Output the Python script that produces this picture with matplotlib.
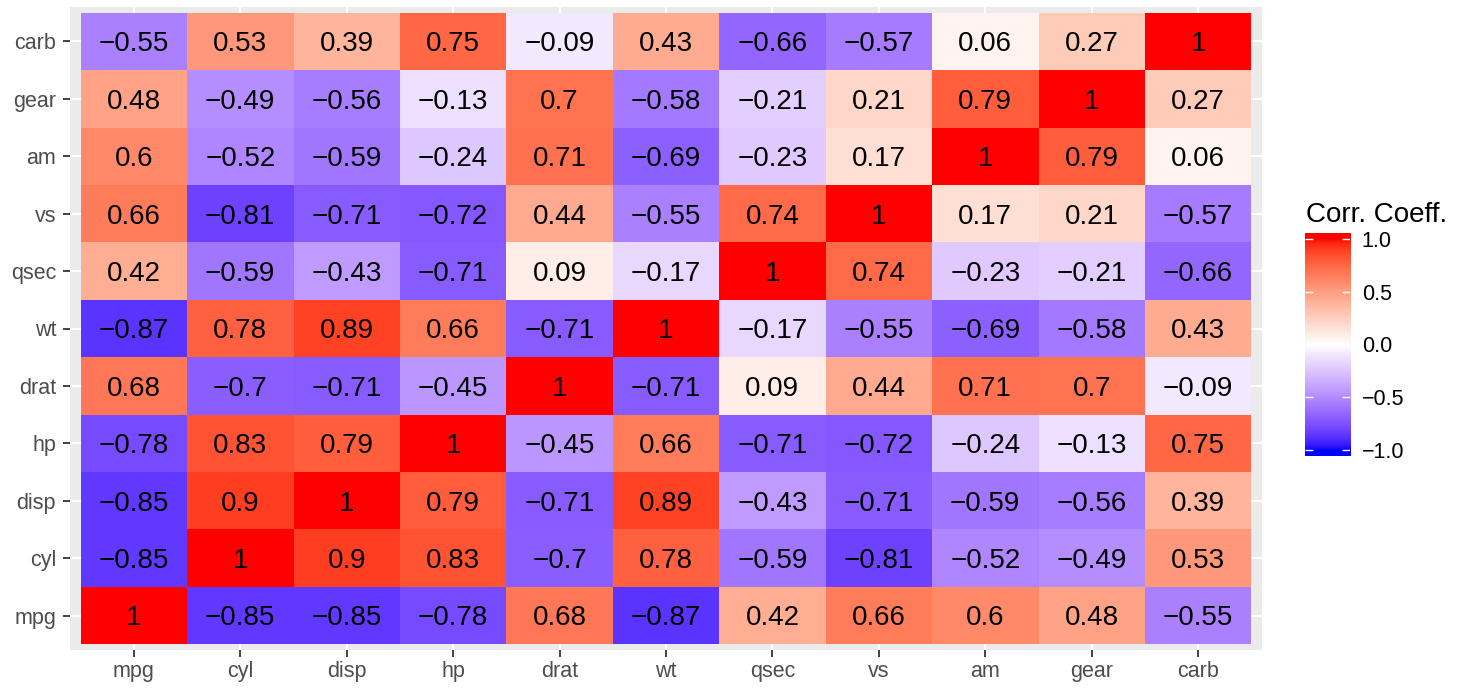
import numpy as np
import matplotlib
matplotlib.use("Agg")
import matplotlib.pyplot as plt
from matplotlib.colors import ListedColormap, Normalize

plt.rcParams['font.family'] = ['Liberation Sans', 'DejaVu Sans']

# Variables (bottom-to-top on y, left-to-right on x)
variables = ["mpg", "cyl", "disp", "hp", "drat", "wt", "qsec", "vs", "am", "gear", "carb"]

# Correlation coefficients, one row per variable
r_mpg  = [1, -0.85, -0.85, -0.78, 0.68, -0.87, 0.42, 0.66, 0.6, 0.48, -0.55]
r_cyl  = [-0.85, 1, 0.9, 0.83, -0.7, 0.78, -0.59, -0.81, -0.52, -0.49, 0.53]
r_disp = [-0.85, 0.9, 1, 0.79, -0.71, 0.89, -0.43, -0.71, -0.59, -0.56, 0.39]
r_hp   = [-0.78, 0.83, 0.79, 1, -0.45, 0.66, -0.71, -0.72, -0.24, -0.13, 0.75]
r_drat = [0.68, -0.7, -0.71, -0.45, 1, -0.71, 0.09, 0.44, 0.71, 0.7, -0.09]
r_wt   = [-0.87, 0.78, 0.89, 0.66, -0.71, 1, -0.17, -0.55, -0.69, -0.58, 0.43]
r_qsec = [0.42, -0.59, -0.43, -0.71, 0.09, -0.17, 1, 0.74, -0.23, -0.21, -0.66]
r_vs   = [0.66, -0.81, -0.71, -0.72, 0.44, -0.55, 0.74, 1, 0.17, 0.21, -0.57]
r_am   = [0.6, -0.52, -0.59, -0.24, 0.71, -0.69, -0.23, 0.17, 1, 0.79, 0.06]
r_gear = [0.48, -0.49, -0.56, -0.13, 0.7, -0.58, -0.21, 0.21, 0.79, 1, 0.27]
r_carb = [-0.55, 0.53, 0.39, 0.75, -0.09, 0.43, -0.66, -0.57, 0.06, 0.27, 1]

legend_title = "Corr. Coeff."
legend_ticks = [-1.0, -0.5, 0.0, 0.5, 1.0]

corr = np.array([r_mpg, r_cyl, r_disp, r_hp, r_drat, r_wt, r_qsec, r_vs, r_am, r_gear, r_carb])
n = len(variables)


# --- diverging blue-white-red palette interpolated in CIE Lab ---
_M = np.array([[0.4124564, 0.3575761, 0.1804375],
               [0.2126729, 0.7151522, 0.0721750],
               [0.0193339, 0.1191920, 0.9503041]])
_WHITE = np.array([0.95047, 1.0, 1.08883])
_D = 6 / 29


def rgb_to_lab(rgb):
    c = np.asarray(rgb, float)
    lin = np.where(c <= 0.04045, c / 12.92, ((c + 0.055) / 1.055) ** 2.4)
    xyz = _M @ lin / _WHITE
    f = np.where(xyz > _D ** 3, np.cbrt(xyz), xyz / (3 * _D ** 2) + 4 / 29)
    return np.array([116 * f[1] - 16, 500 * (f[0] - f[1]), 200 * (f[1] - f[2])])


def lab_to_rgb(lab):
    L, a, b = lab
    fy = (L + 16) / 116
    fx = fy + a / 500
    fz = fy - b / 200
    f = np.array([fx, fy, fz])
    xyz = np.where(f > _D, f ** 3, 3 * _D ** 2 * (f - 4 / 29)) * _WHITE
    lin = np.linalg.solve(_M, xyz)
    lin = np.clip(lin, 0, 1)
    c = np.where(lin <= 0.0031308, 12.92 * lin, 1.055 * lin ** (1 / 2.4) - 0.055)
    return np.clip(c, 0, 1)


low, mid, high = rgb_to_lab([0, 0, 1]), rgb_to_lab([1, 1, 1]), rgb_to_lab([1, 0, 0])
colors = []
for t in np.linspace(0, 1, 512):
    if t <= 0.5:
        u = t / 0.5
        lab = low + (mid - low) * u
    else:
        u = (t - 0.5) / 0.5
        lab = mid + (high - mid) * u
    colors.append(lab_to_rgb(lab))
cmap = ListedColormap(colors)
norm = Normalize(vmin=-1, vmax=1)

W, H = 1466, 688
fig = plt.figure(figsize=(W / 100, H / 100), dpi=100)
fig.patch.set_facecolor("white")

ax = fig.add_axes([70 / W, (H - 650) / H, (1262 - 70) / W, (650 - 7) / H])
ax.set_facecolor("#EBEBEB")

edges = np.arange(n + 1) - 0.5
ax.pcolormesh(edges, edges, corr, cmap=cmap, norm=norm, zorder=2,
              edgecolors="face", linewidth=0)

cell_fs = 20
for i in range(n):
    for j in range(n):
        v = corr[i, j]
        label = f"{v:g}".replace("-", "\u2212")
        # centre the digits (cap height) on the tile
        ax.annotate(label, (j, i), xytext=(0, -0.358 * cell_fs),
                    textcoords="offset points", ha="center", va="baseline",
                    fontsize=cell_fs, color="black", zorder=3)

exp = 0.1
ax.set_xlim(-0.5 - exp, n - 0.5 + exp)
ax.set_ylim(-0.5 - exp, n - 0.5 + exp)
ax.set_xticks(range(n))
ax.set_yticks(range(n))
ax.set_xticklabels(variables)
ax.set_yticklabels(variables)
ax.tick_params(axis="both", length=5, width=1.3, color="#333333",
               labelcolor="#4D4D4D", labelsize=15.5)
ax.tick_params(axis="x", pad=3)
ax.tick_params(axis="y", pad=5)
ax.grid(True, color="white", linewidth=1.5, zorder=1)
ax.set_axisbelow(True)
for s in ax.spines.values():
    s.set_visible(False)

# --- colour bar legend ---
bar_left, bar_w = 1305, 45
bar_top, bar_bot = 233, 456
cax = fig.add_axes([bar_left / W, (H - bar_bot) / H, bar_w / W, (bar_bot - bar_top) / H])
ext = 1 / 19
vals = np.clip(np.linspace(-1 - ext, 1 + ext, 400), -1, 1)
cax.imshow(vals[:, None], cmap=cmap, norm=norm, aspect="auto", origin="lower",
           extent=(0, 1, -1 - ext, 1 + ext), interpolation="bilinear")
cax.set_xlim(0, 1)
cax.set_ylim(-1 - ext, 1 + ext)
for t in legend_ticks:
    cax.plot([0, 0.18], [t, t], color="white", lw=1, solid_capstyle="butt")
    cax.plot([0.82, 1], [t, t], color="white", lw=1, solid_capstyle="butt")
cax.set_xticks([])
cax.yaxis.tick_right()
cax.set_yticks(legend_ticks)
cax.set_yticklabels([f"{t:.1f}".replace("-", "\u2212") for t in legend_ticks])
cax.tick_params(axis="y", length=0, pad=8.5, labelsize=15.5, labelcolor="black")
for s in cax.spines.values():
    s.set_visible(False)

fig.text(1306 / W, (H - 222) / H, legend_title, ha="left", va="baseline",
         fontsize=20, color="black")

fig.savefig("out.png", dpi=100, facecolor="white")
